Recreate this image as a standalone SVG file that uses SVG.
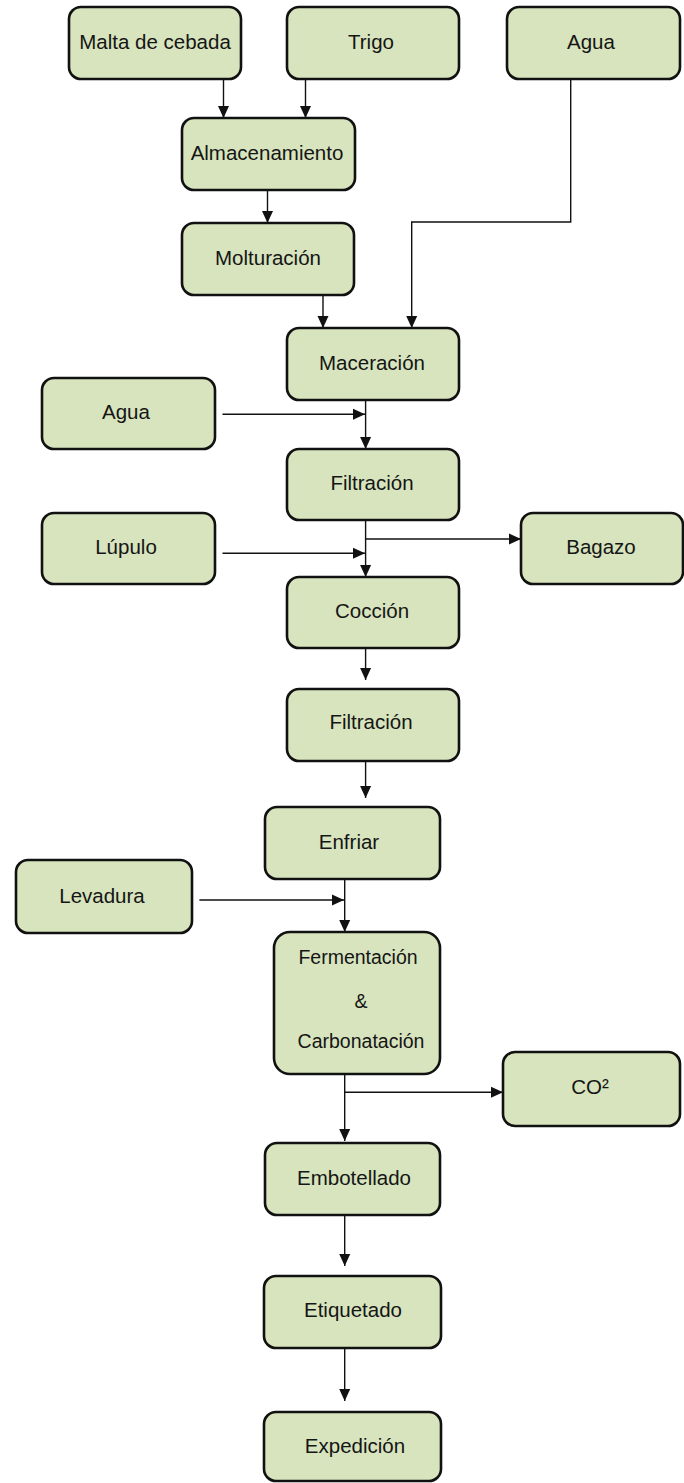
<svg xmlns="http://www.w3.org/2000/svg" width="684" height="1483" viewBox="0 0 684 1483">
  <style>
    .box { fill: #d7e4bd; stroke: #111; stroke-width: 2.6; }
    .lbl { font-family: "Liberation Sans", Arial, sans-serif; font-size: 20.5px; fill: #151515; text-anchor: middle; }
    .lbl2 { font-family: "Liberation Sans", Arial, sans-serif; font-size: 19.5px; fill: #151515; text-anchor: middle; }
    .wire { fill: none; stroke: #111; stroke-width: 1.4; }
    .flow { marker-end: url(#arrow); }
  </style>
  <defs>
    <marker id="arrow" markerUnits="userSpaceOnUse" markerWidth="12" markerHeight="12" refX="12" refY="6" orient="auto">
      <path d="M0,0.5 L12,6 L0,11.5 Z" fill="#111"/>
    </marker>
  </defs>

  <!-- process connectors -->
  <g id="connectors">
    <path class="wire flow" d="M223.5 79 V118"/>
    <path class="wire flow" d="M305.5 79 V118"/>
    <path class="wire flow" d="M570.7 79 V222 H411.7 V328"/>
    <path class="wire flow" d="M267.5 190 V223"/>
    <path class="wire flow" d="M323 295 V328"/>
    <path class="wire flow" d="M365.6 400 V449"/>
    <path class="wire flow" d="M222.5 414.3 H365"/>
    <path class="wire flow" d="M365.6 520 V577"/>
    <path class="wire flow" d="M365.6 539 H521"/>
    <path class="wire flow" d="M222.5 553.3 H365"/>
    <path class="wire flow" d="M365.6 648 V680"/>
    <path class="wire flow" d="M365.6 761 V798"/>
    <path class="wire flow" d="M344.7 879 V932"/>
    <path class="wire flow" d="M199.4 900 H344"/>
    <path class="wire flow" d="M344.7 1074 V1141"/>
    <path class="wire flow" d="M344.7 1092.3 H503"/>
    <path class="wire flow" d="M344.7 1215 V1266"/>
    <path class="wire flow" d="M344.7 1348 V1401"/>
  </g>

  <g id="malta">
    <rect class="box" x="69" y="7" width="172" height="72" rx="12"/>
    <text class="lbl" x="155" y="49">Malta de cebada</text>
  </g>
  <g id="trigo">
    <rect class="box" x="287" y="7" width="172" height="72" rx="12"/>
    <text class="lbl" x="371" y="49">Trigo</text>
  </g>
  <g id="agua-1">
    <rect class="box" x="507" y="7" width="173" height="72" rx="12"/>
    <text class="lbl" x="591" y="49">Agua</text>
  </g>
  <g id="almacenamiento">
    <rect class="box" x="182" y="118" width="173" height="72" rx="12"/>
    <text class="lbl" x="267" y="160">Almacenamiento</text>
  </g>
  <g id="molturacion">
    <rect class="box" x="182" y="223" width="172" height="72" rx="12"/>
    <text class="lbl" x="268" y="265">Molturación</text>
  </g>
  <g id="maceracion">
    <rect class="box" x="287" y="328" width="172" height="72" rx="12"/>
    <text class="lbl" x="372" y="370">Maceración</text>
  </g>
  <g id="agua-2">
    <rect class="box" x="42" y="378" width="173" height="71" rx="12"/>
    <text class="lbl" x="126" y="419">Agua</text>
  </g>
  <g id="filtracion-1">
    <rect class="box" x="287" y="449" width="172" height="71" rx="12"/>
    <text class="lbl" x="372" y="490">Filtración</text>
  </g>
  <g id="lupulo">
    <rect class="box" x="42" y="513" width="173" height="71" rx="12"/>
    <text class="lbl" x="126" y="554">Lúpulo</text>
  </g>
  <g id="bagazo">
    <rect class="box" x="521" y="513" width="162" height="71" rx="12"/>
    <text class="lbl" x="601" y="554">Bagazo</text>
  </g>
  <g id="coccion">
    <rect class="box" x="287" y="577" width="172" height="71" rx="12"/>
    <text class="lbl" x="372" y="618">Cocción</text>
  </g>
  <g id="filtracion-2">
    <rect class="box" x="287" y="689" width="172" height="72" rx="12"/>
    <text class="lbl" x="371" y="729">Filtración</text>
  </g>
  <g id="enfriar">
    <rect class="box" x="265" y="807" width="175" height="72" rx="12"/>
    <text class="lbl" x="349" y="849">Enfriar</text>
  </g>
  <g id="levadura">
    <rect class="box" x="16" y="860" width="176" height="73" rx="12"/>
    <text class="lbl" x="102" y="903">Levadura</text>
  </g>
  <g id="fermentacion">
    <rect class="box" x="274" y="932" width="166" height="142" rx="16"/>
    <text class="lbl2" x="358" y="964">Fermentación</text>
    <text class="lbl2" x="361" y="1008">&amp;</text>
    <text class="lbl2" x="361" y="1048">Carbonatación</text>
  </g>
  <g id="co2">
    <rect class="box" x="503" y="1052" width="177" height="74" rx="12"/>
    <text class="lbl" x="590" y="1094">CO²</text>
  </g>
  <g id="embotellado">
    <rect class="box" x="265" y="1143" width="175" height="72" rx="12"/>
    <text class="lbl" x="354" y="1185">Embotellado</text>
  </g>
  <g id="etiquetado">
    <rect class="box" x="264" y="1276" width="177" height="72" rx="12"/>
    <text class="lbl" x="353" y="1317">Etiquetado</text>
  </g>
  <g id="expedicion">
    <rect class="box" x="264" y="1412" width="177" height="69" rx="12"/>
    <text class="lbl" x="355" y="1453">Expedición</text>
  </g>
</svg>
